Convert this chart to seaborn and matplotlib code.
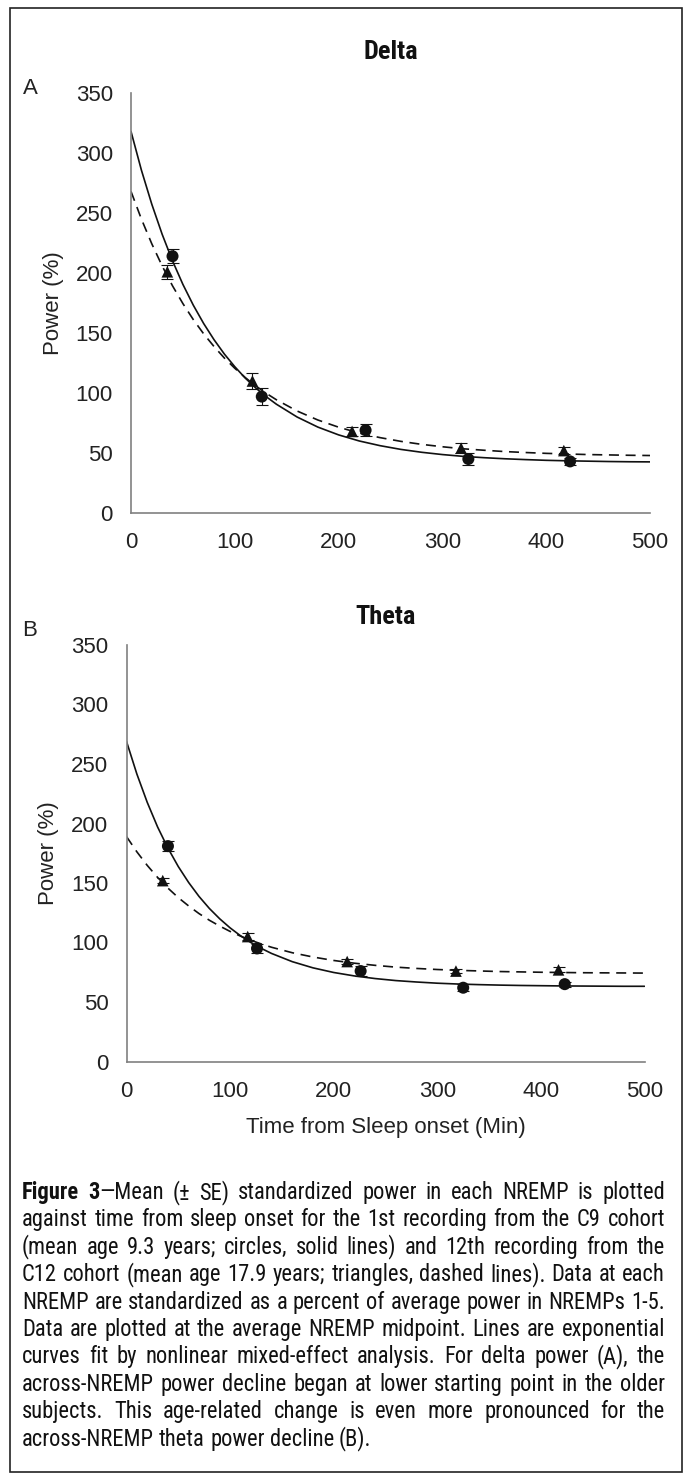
import matplotlib
matplotlib.use('Agg')
import matplotlib.pyplot as plt
import seaborn as sns
from matplotlib import font_manager
from matplotlib.patches import Rectangle

# NREMP midpoints (min), mean standardized power (%) and SE
c9_time = [40, 126, 226, 325, 423]
c12_time = [35, 117, 213, 318, 417]

c9_delta = [214, 97, 69, 45, 43]
c9_delta_se = [6, 7, 5, 5, 3]
c12_delta = [201, 110, 68, 54, 52]
c12_delta_se = [6, 7, 4, 4, 3]

c9_theta = [181, 95, 76, 62, 65]
c9_theta_se = [4, 4, 4, 3, 2]
c12_theta = [152, 105, 84, 76, 77]
c12_theta_se = [2, 3, 2, 2, 2]

# fitted exponential curves (10 min steps early, 20 min later)
fit_time = list(range(0, 150, 10)) + list(range(160, 501, 20))
c9_delta_fit = [318, 285.8, 257.4, 232.3, 210.1, 190.5, 173.2, 157.9, 144.4, 132.4,
                121.9, 112.5, 104.3, 97.1, 90.7,
                80.0, 71.6, 65.1, 60.0, 56.1, 53.0, 50.6, 48.7, 47.2, 46.1,
                45.2, 44.5, 43.9, 43.5, 43.2, 42.9, 42.7, 42.6]
c12_delta_fit = [268, 245.0, 224.4, 205.9, 189.3, 174.5, 161.2, 149.3, 138.7, 129.1,
                 120.6, 112.9, 106.0, 99.9, 94.4,
                 85.0, 77.5, 71.5, 66.6, 62.8, 59.7, 57.2, 55.2, 53.5, 52.3,
                 51.2, 50.4, 49.7, 49.2, 48.7, 48.4, 48.1, 47.9]
c9_theta_fit = [269, 241.6, 217.8, 197.1, 179.3, 163.8, 150.4, 138.7, 128.6, 119.9,
                112.3, 105.7, 100.0, 95.1, 90.8,
                83.9, 78.7, 74.8, 71.9, 69.7, 68.0, 66.8, 65.8, 65.1, 64.6,
                64.2, 63.9, 63.7, 63.5, 63.4, 63.3, 63.2, 63.2]
c12_theta_fit = [189, 176.2, 164.8, 154.7, 145.7, 137.7, 130.7, 124.3, 118.7, 113.8,
                 109.3, 105.4, 101.9, 98.8, 96.0,
                 91.4, 87.8, 84.9, 82.6, 80.8, 79.3, 78.2, 77.3, 76.6, 76.1,
                 75.6, 75.3, 75.0, 74.8, 74.6, 74.5, 74.4, 74.3]

caption_lines = [
    "Figure 3\u2014Mean (\u00b1 SE) standardized power in each NREMP is plotted",
    "against time from sleep onset for the 1st recording from the C9 cohort",
    "(mean age 9.3 years; circles, solid lines) and 12th recording from the",
    "C12 cohort (mean age 17.9 years; triangles, dashed lines). Data at each",
    "NREMP are standardized as a percent of average power in NREMPs 1-5.",
    "Data are plotted at the average NREMP midpoint. Lines are exponential",
    "curves fit by nonlinear mixed-effect analysis. For delta power (A), the",
    "across-NREMP power decline began at lower starting point in the older",
    "subjects. This age-related change is even more pronounced for the",
    "across-NREMP theta power decline (B).",
]

sns.set_style('white')
plt.rcParams['font.family'] = ['Liberation Sans', 'DejaVu Sans']

installed = {f.name for f in font_manager.fontManager.ttflist}
narrow_pick = [n for n in ['Liberation Sans Narrow', 'Arial Narrow', 'Roboto Condensed',
                           'PT Sans Narrow', 'Archivo Narrow'] if n in installed]
NARROW = narrow_pick[:1] + ['Liberation Sans', 'DejaVu Sans']

W, H = 686, 1477
fig = plt.figure(figsize=(W / 100, H / 100), dpi=100)
FS = 16


def panel(rect, title, letter, t9, y9, e9, t12, y12, e12, f9, f12, title_y, letter_y, xlabel=None):
    ax = fig.add_axes(rect)
    sns.lineplot(x=fit_time, y=f9, ax=ax, color='#111111', lw=1.2)
    sns.lineplot(x=fit_time, y=f12, ax=ax, color='#111111', lw=1.2, linestyle=(0, (6, 4)))
    ax.errorbar(t9, y9, yerr=e9, fmt='none', ecolor='#111111', elinewidth=0.8, capsize=4, capthick=0.8)
    ax.errorbar(t12, y12, yerr=e12, fmt='none', ecolor='#111111', elinewidth=0.8, capsize=4, capthick=0.8)
    sns.scatterplot(x=t9, y=y9, ax=ax, marker='o', s=75, color='#111111', edgecolor='none', zorder=5)
    sns.scatterplot(x=t12, y=y12, ax=ax, marker='^', s=70, color='#111111', edgecolor='none', zorder=5)
    ax.set_xlim(0, 500)
    ax.set_ylim(0, 350)
    ax.set_xticks(range(0, 501, 100))
    ax.set_yticks(range(0, 351, 50))
    for s in ['top', 'right']:
        ax.spines[s].set_visible(False)
    for s in ['left', 'bottom']:
        ax.spines[s].set_color('#808080')
        ax.spines[s].set_linewidth(1.2)
    ax.tick_params(direction='out', length=5, width=1.0, color='#808080',
                   labelsize=FS, labelcolor='#222222')
    ax.tick_params(axis='x', pad=9)
    ax.tick_params(axis='y', pad=8)
    ax.set_ylabel('Power (%)', fontsize=FS, color='#222222')
    ax.yaxis.set_label_coords(-0.13, 0.5)
    if xlabel:
        ax.set_xlabel(xlabel, fontsize=FS, color='#222222', labelpad=11)
    else:
        ax.set_xlabel('')
    cx = rect[0] + rect[2] / 2
    fig.text(cx, 1 - title_y / H, title, ha='center', va='center', fontsize=19,
             fontweight='bold', family=NARROW, color='#111111')
    fig.text(30 / W, 1 - letter_y / H, letter, ha='center', va='center', fontsize=FS,
             color='#222222')
    return ax


panel([131 / W, 1 - 513 / H, 519 / W, 420 / H], 'Delta', 'A',
      c9_time, c9_delta, c9_delta_se, c12_time, c12_delta, c12_delta_se,
      c9_delta_fit, c12_delta_fit, title_y=52, letter_y=88)
panel([126.5 / W, 1 - 1061.5 / H, 518 / W, 416.5 / H], 'Theta', 'B',
      c9_time, c9_theta, c9_theta_se, c12_time, c12_theta, c12_theta_se,
      c9_theta_fit, c12_theta_fit, title_y=617, letter_y=631,
      xlabel='Time from Sleep onset (Min)')

# justified caption, font size fitted to the text block width
renderer = fig.canvas.get_renderer()
x0, x1 = 22, 665


def width(s, weight, size):
    t = fig.text(0, 0, s, fontsize=size, family=NARROW, fontweight=weight)
    w = t.get_window_extent(renderer).width
    t.remove()
    return w


natural = max(width(l, 'normal', 10) for l in caption_lines[:-1])
cap_fs = min(10 * (x1 - x0) / natural * 0.985, 17)
space_w = width('a b', 'normal', cap_fs) - width('ab', 'normal', cap_fs)

for i, line in enumerate(caption_lines):
    y = 1 - (1199 + i * 27.4) / H
    words = line.split(' ')
    pieces = []
    for j, wd in enumerate(words):
        if i == 0 and j == 0:
            pieces.append([(wd, 'bold')])
        elif i == 0 and j == 1:
            pieces.append([('3', 'bold'), (wd[1:], 'normal')])
        else:
            pieces.append([(wd, 'normal')])
    widths = [sum(width(s, w, cap_fs) for s, w in p) for p in pieces]
    last = i == len(caption_lines) - 1
    gap = space_w if last else (x1 - x0 - sum(widths)) / (len(pieces) - 1)
    x = x0
    for p, pw in zip(pieces, widths):
        xx = x
        for s, w in p:
            fig.text(xx / W, y, s, fontsize=cap_fs, family=NARROW, fontweight=w,
                     ha='left', va='baseline', color='#111111')
            xx += width(s, w, cap_fs)
        x += pw + gap

fig.add_artist(Rectangle((10 / W, 1 - 1472 / H), 672 / W, 1464 / H, transform=fig.transFigure,
                         fill=False, edgecolor='#222222', lw=1.2))

fig.savefig('out.png', dpi=100)
